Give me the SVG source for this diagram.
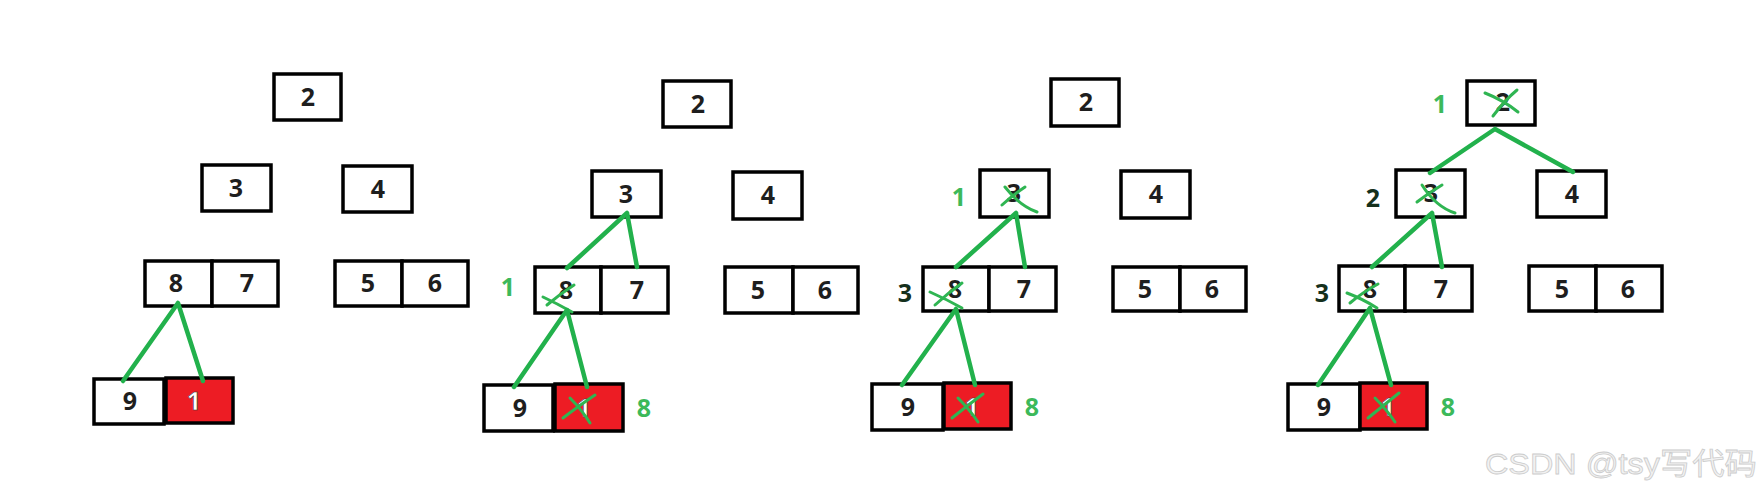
<svg xmlns="http://www.w3.org/2000/svg" width="1764" height="494" viewBox="0 0 1764 494">
<style>
.b{fill:#fff;stroke:#000;stroke-width:3.5}
.r{fill:#ed1c24;stroke:#000;stroke-width:3.5}
.t{font-family:"Noto Sans","DejaVu Sans",sans-serif;font-weight:bold;font-size:25px;fill:#1e1e1e;text-anchor:middle}
.w{font-family:"Noto Sans","DejaVu Sans",sans-serif;font-weight:bold;font-size:25px;fill:#fff;stroke:#333;stroke-width:0.6;text-anchor:middle}
.g{font-family:"Noto Sans","DejaVu Sans",sans-serif;font-weight:bold;font-size:25px;fill:#3cb95a;text-anchor:middle}
.d{font-family:"Noto Sans","DejaVu Sans",sans-serif;font-weight:bold;font-size:25px;fill:#15301c;text-anchor:middle}
.e{fill:none;stroke:#22b14c;stroke-width:4.5;stroke-linecap:round}
.x{fill:none;stroke:#2fb552;stroke-width:3;stroke-linecap:round}
.wm{font-family:"Liberation Sans","Noto Sans CJK SC",sans-serif;font-size:30px;fill:#f2f2f2;stroke:#cccccc;stroke-width:0.8}
</style>
<rect width="1764" height="494" fill="#fff"/>

<!-- Panel 1 -->
<g id="p1-n2"><rect class="b" x="274" y="74" width="67" height="46"/><text class="t" x="308" y="106">2</text></g>
<g id="p1-n3"><rect class="b" x="202" y="165" width="69" height="46"/><text class="t" x="236" y="197">3</text></g>
<g id="p1-n4"><rect class="b" x="343" y="166" width="69" height="46"/><text class="t" x="378" y="198">4</text></g>
<g id="p1-n8"><rect class="b" x="145" y="261" width="67" height="45"/><text class="t" x="176" y="292">8</text></g>
<g id="p1-n7"><rect class="b" x="212" y="261" width="66" height="45"/><text class="t" x="247" y="292">7</text></g>
<g id="p1-n5"><rect class="b" x="335" y="261" width="67" height="45"/><text class="t" x="368" y="292">5</text></g>
<g id="p1-n6"><rect class="b" x="402" y="261" width="66" height="45"/><text class="t" x="435" y="292">6</text></g>
<g id="p1-n9"><rect class="b" x="94" y="379" width="70" height="45"/><text class="t" x="130" y="410">9</text></g>
<g id="p1-n1"><rect class="r" x="166" y="378" width="67" height="45"/><text class="w" x="194" y="410">1</text></g>

<!-- Panel 2 -->
<g id="p2-n2"><rect class="b" x="663" y="81" width="68" height="46"/><text class="t" x="698" y="113">2</text></g>
<g id="p2-n3"><rect class="b" x="592" y="171" width="69" height="46"/><text class="t" x="626" y="203">3</text></g>
<g id="p2-n4"><rect class="b" x="733" y="172" width="69" height="47"/><text class="t" x="768" y="204">4</text></g>
<g id="p2-n8"><rect class="b" x="535" y="267" width="66" height="46"/><text class="t" x="566" y="299">8</text>
<path class="x" d="M543 297 Q558 304 572 312 M547 305 Q560 294 574 285"/></g>
<g id="p2-n7"><rect class="b" x="601" y="267" width="67" height="46"/><text class="t" x="637" y="299">7</text></g>
<g id="p2-n5"><rect class="b" x="725" y="267" width="68" height="46"/><text class="t" x="758" y="299">5</text></g>
<g id="p2-n6"><rect class="b" x="793" y="267" width="65" height="46"/><text class="t" x="825" y="299">6</text></g>
<g id="p2-n9"><rect class="b" x="484" y="385" width="69" height="46"/><text class="t" x="520" y="417">9</text></g>
<g id="p2-n1"><rect class="r" x="555" y="384" width="68" height="47"/><text class="w" x="584" y="417">1</text>
<path class="x" d="M563 418 Q580 405 595 395 M570 398 Q582 410 590 423"/></g>
<g id="p2-labels"><text class="g" x="508" y="296">1</text><text class="g" x="644" y="417">8</text></g>

<!-- Panel 3 -->
<g id="p3-n2"><rect class="b" x="1051" y="79" width="68" height="47"/><text class="t" x="1086" y="111">2</text></g>
<g id="p3-n3"><rect class="b" x="980" y="170" width="69" height="47"/><text class="t" x="1014" y="202">3</text>
<path class="x" d="M1002 205 Q1013 195 1025 187 M1005 187 Q1020 206 1037 212"/></g>
<g id="p3-n4"><rect class="b" x="1121" y="171" width="69" height="47"/><text class="t" x="1156" y="203">4</text></g>
<g id="p3-n8"><rect class="b" x="923" y="267" width="66" height="44"/><text class="t" x="955" y="298">8</text>
<path class="x" d="M930 292 Q946 299 962 308 M935 305 Q948 293 962 283"/></g>
<g id="p3-n7"><rect class="b" x="989" y="267" width="67" height="44"/><text class="t" x="1024" y="298">7</text></g>
<g id="p3-n5"><rect class="b" x="1113" y="267" width="67" height="44"/><text class="t" x="1145" y="298">5</text></g>
<g id="p3-n6"><rect class="b" x="1180" y="267" width="66" height="44"/><text class="t" x="1212" y="298">6</text></g>
<g id="p3-n9"><rect class="b" x="872" y="384" width="71" height="46"/><text class="t" x="908" y="416">9</text></g>
<g id="p3-n1"><rect class="r" x="944" y="383" width="67" height="46"/><text class="w" x="972" y="416">1</text>
<path class="x" d="M952 418 Q968 405 983 394 M958 398 Q970 410 978 422"/></g>
<g id="p3-labels"><text class="g" x="959" y="206">1</text><text class="d" x="905" y="302">3</text><text class="g" x="1032" y="416">8</text></g>

<!-- Panel 4 -->
<g id="p4-n2"><rect class="b" x="1467" y="81" width="68" height="44"/><text class="t" x="1503" y="111">2</text>
<path class="x" d="M1485 93 Q1503 100 1518 112 M1493 116 Q1505 100 1517 90"/></g>
<g id="p4-n3"><rect class="b" x="1396" y="170" width="69" height="47"/><text class="t" x="1431" y="202">3</text>
<path class="x" d="M1417 202 Q1430 192 1442 185 M1422 185 Q1436 207 1455 213"/></g>
<g id="p4-n4"><rect class="b" x="1537" y="171" width="69" height="46"/><text class="t" x="1572" y="203">4</text></g>
<g id="p4-n8"><rect class="b" x="1339" y="266" width="66" height="45"/><text class="t" x="1370" y="298">8</text>
<path class="x" d="M1347 293 Q1363 299 1377 308 M1350 303 Q1363 292 1378 284"/></g>
<g id="p4-n7"><rect class="b" x="1405" y="266" width="67" height="45"/><text class="t" x="1441" y="298">7</text></g>
<g id="p4-n5"><rect class="b" x="1529" y="266" width="67" height="45"/><text class="t" x="1562" y="298">5</text></g>
<g id="p4-n6"><rect class="b" x="1596" y="266" width="66" height="45"/><text class="t" x="1628" y="298">6</text></g>
<g id="p4-n9"><rect class="b" x="1288" y="384" width="72" height="46"/><text class="t" x="1324" y="416">9</text></g>
<g id="p4-n1"><rect class="r" x="1360" y="383" width="67" height="46"/><text class="w" x="1388" y="416">1</text>
<path class="x" d="M1368 418 Q1384 405 1399 393 M1375 398 Q1387 410 1395 422"/></g>
<g id="p4-labels"><text class="g" x="1440" y="113">1</text><text class="d" x="1373" y="207">2</text><text class="d" x="1322" y="302">3</text><text class="g" x="1448" y="416">8</text></g>

<!-- connectors -->
<g id="connectors">
<path class="e" d="M178 303 L123 381 M178 303 L203 381"/>
<path class="e" d="M627 213 L567 268 M627 213 L637 267 M567 310 L514 387 M567 310 L587 387"/>
<path class="e" d="M1016 213 L956 267 M1016 213 L1025 267 M956 309 L902 385 M956 309 L975 385"/>
<path class="e" d="M1495 129 L1430 173 M1495 129 L1573 172 M1432 213 L1372 267 M1432 213 L1442 267 M1370 308 L1318 385 M1370 308 L1391 385"/>
</g>

<text class="wm" x="1485" y="474" textLength="272" lengthAdjust="spacingAndGlyphs">CSDN @tsy写代码</text>
</svg>
